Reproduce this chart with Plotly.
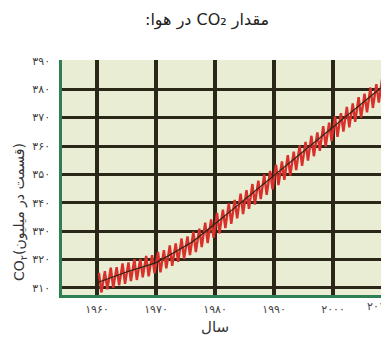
import plotly.graph_objects as go

# ---- data ----
trend_years = list(range(1960, 2010))
trend_ppm = [311.8, 312.5, 313.3, 314.0, 314.8, 315.6, 316.2, 316.9, 317.5, 318.2,
             318.9, 320.0, 321.2, 322.4, 323.6, 324.8, 326.0, 327.6, 329.2, 330.8,
             332.6, 334.3, 336.0, 337.7, 339.4, 341.1, 342.8, 344.5, 346.2, 347.9,
             349.6, 351.3, 353.0, 354.7, 356.4, 358.1, 359.8, 361.5, 363.2, 364.9,
             366.6, 368.3, 370.0, 371.7, 373.4, 375.1, 376.8, 378.5, 380.3, 382.0]
peak_ppm = [315.3, 315.9, 317.1, 317.3, 318.6, 319.0, 320.1, 320.2, 321.3, 321.5,
            322.7, 323.3, 325.0, 325.7, 327.4, 328.1, 329.8, 330.9, 333.0, 334.1,
            336.4, 337.6, 339.8, 341.0, 343.2, 344.4, 346.6, 347.8, 350.0, 351.2,
            353.4, 354.6, 356.8, 358.0, 360.2, 361.4, 363.6, 364.8, 367.0, 368.2,
            370.4, 371.6, 373.8, 375.0, 377.2, 378.4, 380.6, 381.8, 384.1, 385.4]
trough_ppm = [308.4, 309.5, 310.0, 310.9, 311.4, 312.4, 312.8, 313.7, 314.1, 315.1,
              315.5, 316.9, 317.8, 319.2, 320.2, 321.6, 322.6, 324.4, 325.8, 327.6,
              329.2, 331.1, 332.6, 334.5, 336.0, 337.9, 339.4, 341.3, 342.8, 344.7,
              346.2, 348.1, 349.6, 351.5, 353.0, 354.9, 356.4, 358.3, 359.8, 361.7,
              363.2, 365.1, 366.6, 368.5, 370.0, 371.9, 373.4, 375.3, 376.9, 378.8]
peak_month = 5      # seasonal maximum (May)
trough_month = 10   # seasonal minimum (October)

x_tick_vals = [1960, 1970, 1980, 1990, 2000]
x_tick_text = ["۱۹۶۰", "۱۹۷۰", "۱۹۸۰", "۱۹۹۰", "۲۰۰۰"]
x_extra_text = "۲۰۱۰"
y_tick_vals = [310, 320, 330, 340, 350, 360, 370, 380, 390]
y_tick_text = ["۳۱۰", "۳۲۰", "۳۳۰", "۳۴۰", "۳۵۰", "۳۶۰", "۳۷۰", "۳۸۰", "۳۹۰"]

title_text = "\u202bمقدار CO₂ در هوا:\u202c"
x_title = "سال"
y_title = "CO<sub>۲</sub>(قسمت در میلیون)"

# build seasonal zigzag series
red_x, red_y = [], []
for yr, p, t in zip(trend_years, peak_ppm, trough_ppm):
    red_x += [yr + (peak_month - 1) / 12, yr + (trough_month - 1) / 12]
    red_y += [p, t]

FONT = "DejaVu Sans, Noto Sans, sans-serif"
OFF = 8                      # page body margin of the exported html
W, H = 389 - OFF, 350 - OFF  # figure size so that it ends at the window edge
PL, PR, PT, PB = 62, 385, 60, 295   # wanted plot-area edges in window pixels
L, R, T, B = PL - OFF, W - (PR - OFF), PT - OFF, H - (PB - OFF)
PW, PH = W - L - R, H - T - B


def px(xw):
    return (xw - PL) / PW


def py(yw):
    return (PB - yw) / PH


fig = go.Figure()
fig.add_trace(go.Scatter(x=red_x, y=red_y, mode="lines",
                         line=dict(color="#d8302a", width=2.4), hoverinfo="skip"))
fig.add_trace(go.Scatter(x=trend_years, y=trend_ppm, mode="lines",
                         line=dict(color="#2a2418", width=1.2), hoverinfo="skip"))

fig.update_layout(
    width=W, height=H,
    margin=dict(l=L, r=R, t=T, b=B, autoexpand=False),
    paper_bgcolor="white",
    plot_bgcolor="#e8edd3",
    showlegend=False,
    font=dict(family=FONT, color="#444"),
    annotations=[
        dict(text=title_text, xref="paper", yref="paper",
             x=px(207), y=py(20), xanchor="center", yanchor="middle",
             showarrow=False, font=dict(size=16, color="#222")),
        dict(text=x_title, xref="paper", yref="paper",
             x=px(215), y=py(327), xanchor="center", yanchor="middle",
             showarrow=False, font=dict(size=15, color="#333")),
        dict(text=y_title, xref="paper", yref="paper",
             x=px(20), y=py(212), xanchor="center", yanchor="middle",
             showarrow=False, textangle=-90, font=dict(size=14, color="#333")),
        dict(text=x_extra_text, xref="paper", yref="paper",
             x=px(379), y=py(306), xanchor="center", yanchor="middle",
             showarrow=False, font=dict(size=11, color="#444")),
    ],
)

fig.update_xaxes(range=[1954.07, 2008.8], tickvals=x_tick_vals, ticktext=x_tick_text,
                 showgrid=True, gridcolor="#2a2618", gridwidth=3.5,
                 showline=True, linecolor="#2f7f55", linewidth=2.5, mirror=False,
                 zeroline=False, ticks="", ticklen=0, tickfont=dict(size=11, color="#444"),
                 ticklabelstandoff=2, automargin=False, fixedrange=True)
fig.update_yaxes(range=[307.5, 390.3], tickvals=y_tick_vals, ticktext=y_tick_text,
                 showgrid=True, gridcolor="#2a2618", gridwidth=2.8,
                 showline=True, linecolor="#2f7f55", linewidth=2.5, mirror=True,
                 zeroline=False, ticks="", ticklen=0, tickfont=dict(size=11, color="#444"),
                 ticklabelstandoff=7, automargin=False, fixedrange=True)

fig.write_html("out.html")
